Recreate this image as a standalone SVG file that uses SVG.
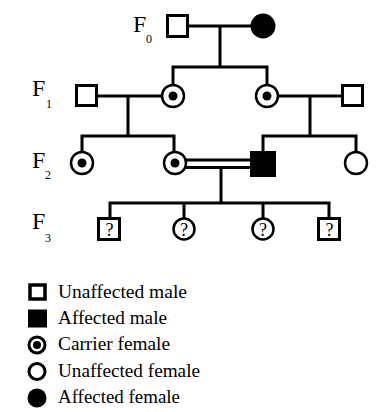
<svg xmlns="http://www.w3.org/2000/svg" width="381" height="412" viewBox="0 0 381 412">
<style>
.bg{fill:#fff}
.ln{stroke:#000;stroke-width:3;fill:none}
.sq{fill:#fff;stroke:#000;stroke-width:3}
.sqf{fill:#000;stroke:#000;stroke-width:3}
.ci{fill:#fff;stroke:#000;stroke-width:2.5}
.cif{fill:#000;stroke:#000;stroke-width:2}
.dot{fill:#000}
.gen{font-family:"Liberation Serif","Times New Roman",serif;font-size:24px;fill:#000}
.sub{font-family:"Liberation Serif","Times New Roman",serif;font-size:12px;fill:#000}
.q{font-family:"Liberation Serif","Times New Roman",serif;font-size:18px;fill:#000;text-anchor:middle}
.lg{font-family:"Liberation Serif","Times New Roman",serif;font-size:19.5px;fill:#000}
.lsq{fill:#fff;stroke:#000;stroke-width:3.5}
.lci{fill:#fff;stroke:#000;stroke-width:3}
</style>
<rect class="bg" x="0" y="0" width="381" height="412"/>

<g id="labels">
<text class="gen" x="133" y="32">F</text><text class="sub" x="146" y="43">0</text>
<text class="gen" x="32" y="96">F</text><text class="sub" x="46" y="108">1</text>
<text class="gen" x="32" y="168">F</text><text class="sub" x="45" y="179">2</text>
<text class="gen" x="32" y="229">F</text><text class="sub" x="45" y="242">3</text>
</g>

<g id="connectors">
<!-- F0 -->
<path class="ln" d="M189 26H252 M220 26V67 M171.5 67H268.5 M173 67V84 M267 67V84"/>
<!-- F1 left couple -->
<path class="ln" d="M98 96H161 M128 96V136 M80.5 136H175.5 M82 136V151 M174 136V151"/>
<!-- F1 right couple -->
<path class="ln" d="M279 96H341 M310 96V136 M261.5 136H357.5 M263 136V151 M356 136V151"/>
<!-- F2 consanguineous couple -->
<path class="ln" d="M186 160H250 M186 167.5H250 M221 167.5V203 M108.5 203H330.5 M110 203V217 M184 203V218 M263 203V218 M329 203V217"/>
</g>

<g id="F0_male"><rect class="sq" x="167.5" y="15.5" width="20" height="21"/></g>
<g id="F0_female"><circle class="cif" cx="263" cy="26" r="11.5"/></g>

<g id="F1_male_left"><rect class="sq" x="76.5" y="85.5" width="20" height="20"/></g>
<g id="F1_female_left"><circle class="ci" cx="173" cy="96" r="11"/><circle class="dot" cx="173" cy="96" r="4.5"/></g>
<g id="F1_female_right"><circle class="ci" cx="267" cy="96" r="11"/><circle class="dot" cx="267" cy="96" r="4.5"/></g>
<g id="F1_male_right"><rect class="sq" x="342.5" y="85.5" width="20" height="20"/></g>

<g id="F2_female_1"><circle class="ci" cx="82" cy="163" r="11"/><circle class="dot" cx="82" cy="163" r="4.5"/></g>
<g id="F2_female_2"><circle class="ci" cx="175" cy="163" r="11"/><circle class="dot" cx="175" cy="163" r="4.5"/></g>
<g id="F2_male_affected"><rect class="sqf" x="251.5" y="152.5" width="23" height="23"/></g>
<g id="F2_female_4"><circle class="ci" cx="356" cy="163" r="11"/></g>

<g id="F3_male_1"><rect class="sq" x="98.5" y="218.5" width="21" height="21"/><text class="q" x="109.5" y="236">?</text></g>
<g id="F3_female_1"><circle class="ci" cx="184" cy="229" r="10.5"/><text class="q" x="184" y="236">?</text></g>
<g id="F3_female_2"><circle class="ci" cx="263" cy="229" r="10.5"/><text class="q" x="263" y="236">?</text></g>
<g id="F3_male_2"><rect class="sq" x="318.5" y="218.5" width="21" height="21"/><text class="q" x="329.5" y="236">?</text></g>

<g id="legend">
<g id="legend_unaffected_male"><rect class="lsq" x="30" y="285" width="15" height="14"/><text class="lg" x="58" y="298" textLength="129" lengthAdjust="spacingAndGlyphs">Unaffected male</text></g>
<g id="legend_affected_male"><rect class="dot" x="28" y="309.5" width="19" height="18"/><text class="lg" x="58" y="324" textLength="109" lengthAdjust="spacingAndGlyphs">Affected male</text></g>
<g id="legend_carrier_female"><circle class="lci" cx="37" cy="345" r="8"/><circle class="dot" cx="37" cy="345" r="4"/><text class="lg" x="58" y="350" textLength="112" lengthAdjust="spacingAndGlyphs">Carrier female</text></g>
<g id="legend_unaffected_female"><circle class="lci" cx="37" cy="371.5" r="8"/><text class="lg" x="58" y="376.5" textLength="142" lengthAdjust="spacingAndGlyphs">Unaffected female</text></g>
<g id="legend_affected_female"><circle class="dot" cx="37" cy="398" r="9.5"/><text class="lg" x="58" y="403" textLength="122" lengthAdjust="spacingAndGlyphs">Affected female</text></g>
</g>
</svg>
